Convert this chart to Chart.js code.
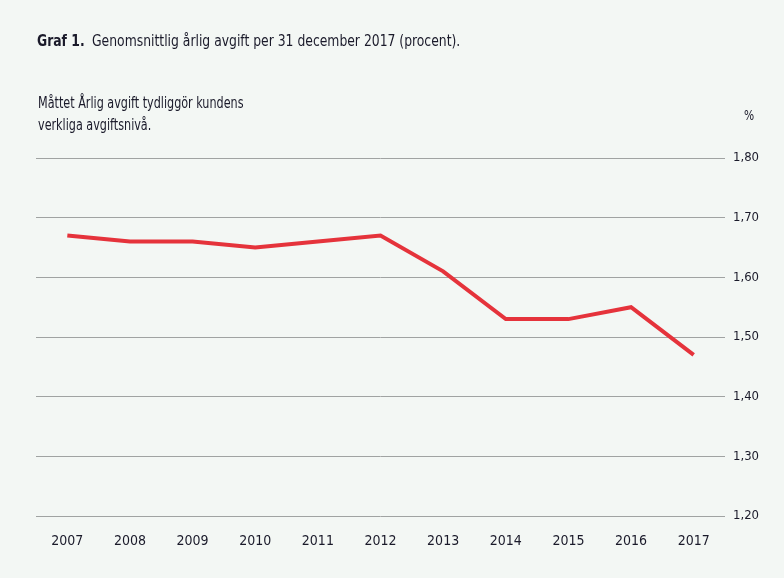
<!DOCTYPE html>
<html>
<head>
<meta charset="utf-8">
<script src="https://cdn.jsdelivr.net/npm/chart.js@4.4.1/dist/chart.umd.min.js"></script>
<style>
  html, body { margin: 0; padding: 0; background: #f3f7f4; }
  #wrap { position: relative; width: 784px; height: 578px; font-family: "DejaVu Sans Condensed", "Liberation Sans", sans-serif; color: #1a1a2a; }
  #title { position: absolute; left: 37px; top: 31px; font-size: 16px; white-space: nowrap; transform: scaleX(0.86); transform-origin: 0 0; }
  #title b { margin-right: 4px; }
  #note { position: absolute; left: 38px; top: 92px; font-size: 15px; line-height: 22px; white-space: nowrap; transform: scaleX(0.83); transform-origin: 0 0; }
  #unit { position: absolute; left: 744px; top: 107px; font-size: 14px; transform: scaleX(0.85); transform-origin: 0 0; }
  canvas { position: absolute; left: 0; top: 0; }
</style>
</head>
<body>
<div id="wrap">
  <canvas id="c" width="784" height="578"></canvas>
  <div id="title"><b>Graf 1.</b> Genomsnittlig årlig avgift per 31 december 2017 (procent).</div>
  <div id="note">Måttet Årlig avgift tydliggör kundens<br>verkliga avgiftsnivå.</div>
  <div id="unit">%</div>
</div>
<script>
const years = ["2007","2008","2009","2010","2011","2012","2013","2014","2015","2016","2017"];
const avgift = [1.67, 1.66, 1.66, 1.65, 1.66, 1.67, 1.61, 1.53, 1.53, 1.55, 1.47];
const yMin = 1.20, yMax = 1.80, yStep = 0.10;
const fam = '"DejaVu Sans Condensed", "Liberation Sans", sans-serif';

new Chart(document.getElementById('c'), {
  type: 'line',
  data: {
    labels: years,
    datasets: [{
      data: avgift,
      borderColor: '#e5333b',
      borderWidth: 4,
      pointRadius: 0,
      tension: 0,
      fill: false
    }]
  },
  options: {
    responsive: false,
    animation: false,
    layout: { padding: { left: 36, top: 158, right: 0, bottom: 0 } },
    plugins: { legend: { display: false }, tooltip: { enabled: false } },
    scales: {
      x: {
        offset: true,
        grid: { display: false, drawTicks: false },
        border: { display: false },
        ticks: { color: '#1a1a2a', font: { family: fam, size: 14 }, padding: 17, maxRotation: 0 },
        afterFit: s => { s.height = 62; }
      },
      y: {
        position: 'right',
        min: yMin, max: yMax,
        grid: { color: '#a0a3a2', lineWidth: 1, drawTicks: false },
        border: { display: false },
        ticks: {
          stepSize: yStep,
          padding: 8,
          color: '#1a1a2a',
          font: { family: fam, size: 13 },
          callback: v => v.toFixed(2).replace('.', ',')
        },
        afterFit: s => { s.width = 59; }
      }
    }
  }
});
</script>
</body>
</html>
